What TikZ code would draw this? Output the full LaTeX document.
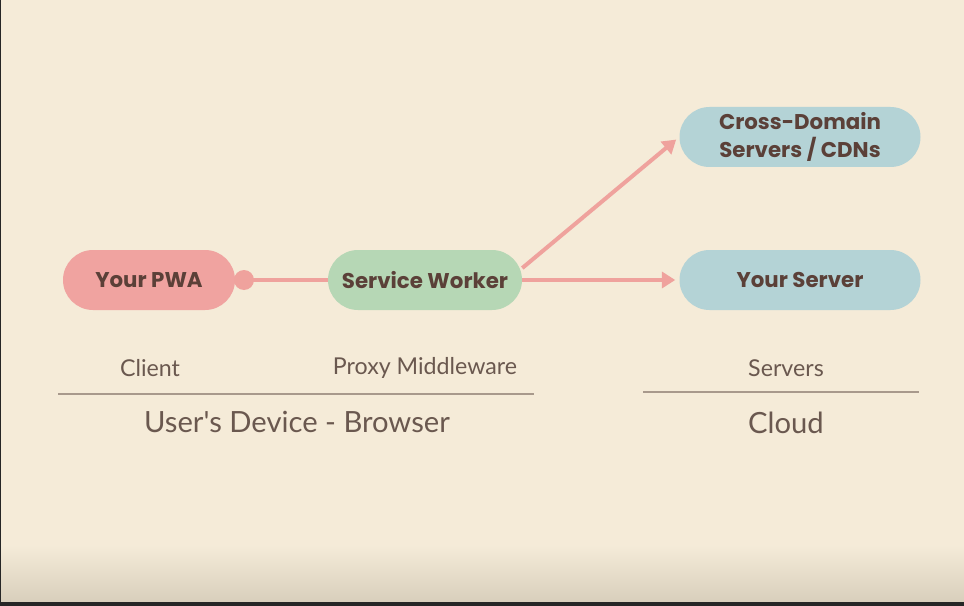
\documentclass[tikz,border=0pt]{standalone}
\usepackage{fontspec}
\setmainfont{Poppins}
\newfontfamily\labelfont{Lato}
\usetikzlibrary{arrows.meta}

\tikzset{
    pill/.style={rectangle, rounded corners=22.5pt, minimum height=45pt,
        inner sep=0pt, align=center, text=txtbrown,
        font=\bfseries\fontsize{16}{21}\selectfont},
    link/.style={draw=linkpink, line width=3pt},
    under/.style={text=lblbrown, font=\labelfont\fontsize{17.4}{20}\selectfont},
    group/.style={text=lblbrown, font=\labelfont\fontsize{21.9}{26}\selectfont}
}

\begin{document}
\begin{tikzpicture}[x=0.75pt, y=-0.75pt]
\definecolor{bg}{HTML}{F5EBD8}
\definecolor{bgdark}{HTML}{D8CFBC}
\definecolor{txtbrown}{HTML}{5B4038}
\definecolor{lblbrown}{HTML}{6A584F}
\definecolor{rulebrown}{HTML}{A8998C}
\definecolor{linkpink}{HTML}{EFA29D}
\definecolor{pwapink}{HTML}{F0A3A0}
\definecolor{swgreen}{HTML}{B6D7B5}
\definecolor{srvblue}{HTML}{B4D3D6}

% background, with the darker band at the bottom
\fill[bg] (0, 0) rectangle (964, 606);
\shade[top color=bg, bottom color=bgdark] (0, 545) rectangle (964, 602);
\fill[black!85] (0, 602) rectangle (964, 606);
\fill[black!85] (0, 0) rectangle (1, 606);
\useasboundingbox (0, 0) rectangle (964, 606);

\node[pill, fill=pwapink, minimum width=129pt] (pwa) at (149, 280) {Your PWA};
\node[pill, fill=swgreen, minimum width=145.5pt] (sw) at (425, 280) {Service Worker};
\node[pill, fill=srvblue, minimum width=180.75pt] (cdn) at (800, 137)
    {Cross-Domain\\Servers / CDNs};
\node[pill, fill=srvblue, minimum width=180.75pt] (srv) at (800, 280) {Your Server};

\fill[linkpink] (244, 280) circle (7.5pt) coordinate (dot);
\draw[link] (dot) -- (sw.west);
\draw[link, -{Triangle[length=10pt, width=12pt]}, shorten >=3pt]
    (sw.east) -- (srv.west);
\draw[link, -{Triangle[length=10pt, width=12pt]}, shorten >=3pt]
    (sw.7) -- (cdn.west);

\node[under] (client) at (150, 368) {Client};
\node[under] (proxy) at (425, 368) {Proxy Middleware};
\node[under] (servers) at (786, 368) {Servers};

\draw[rulebrown, line width=1.5pt] (58, 394) -- (534, 394);
\draw[rulebrown, line width=1.5pt] (643, 392) -- (919, 392);

\node[group] (device) at (297, 422) {User's Device - Browser};
\node[group] (cloud) at (786, 423) {Cloud};

\end{tikzpicture}
\end{document}
